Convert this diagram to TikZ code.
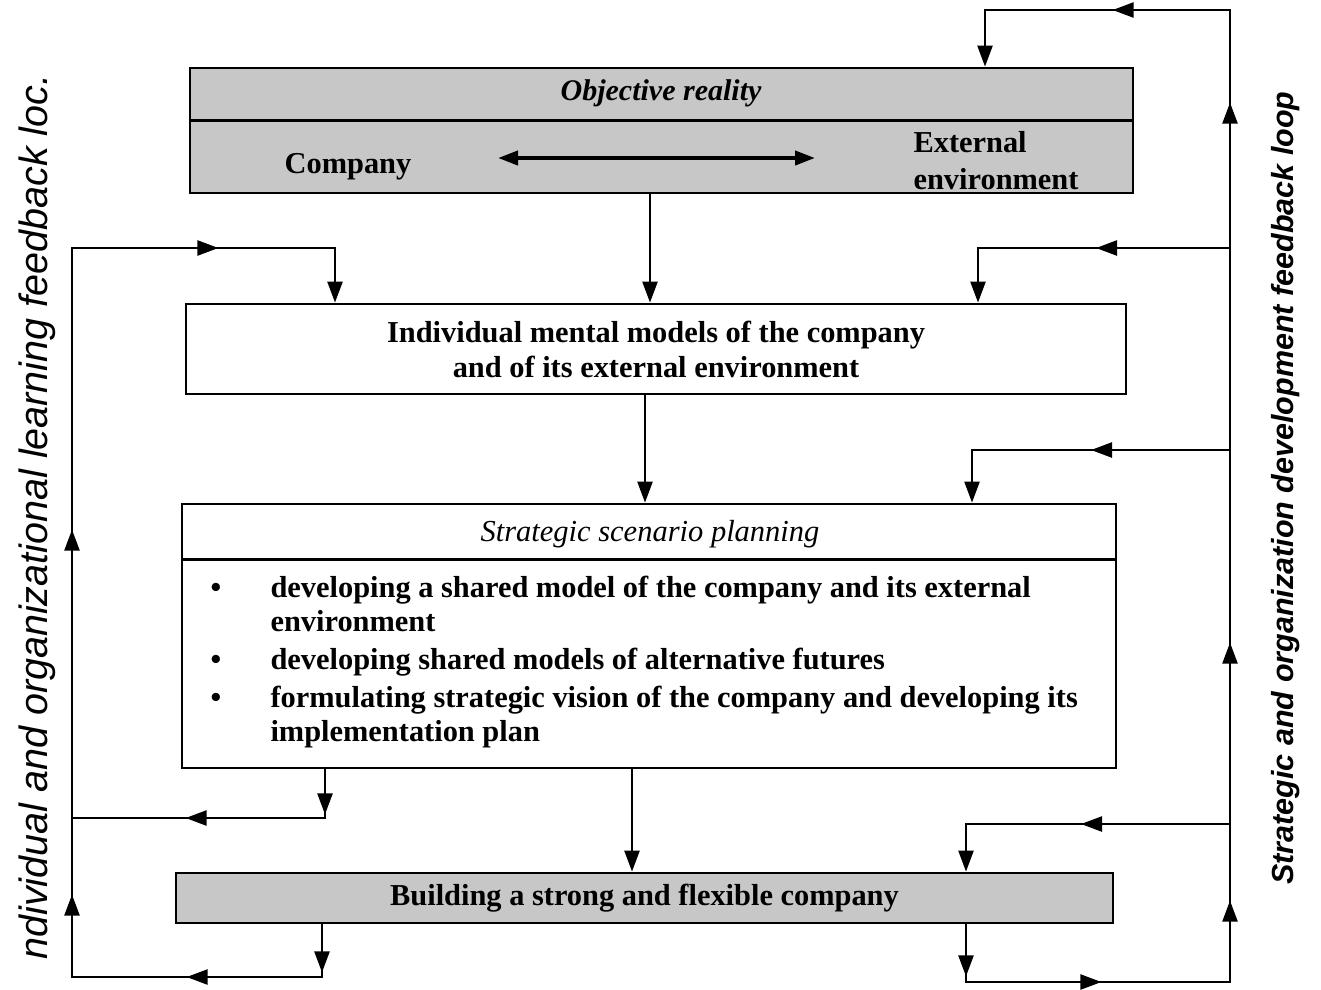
\documentclass[tikz,border=0pt]{standalone}
\usepackage{fontspec}
\setmainfont{Liberation Serif}
\newfontfamily\loopfont{Liberation Sans}
\usetikzlibrary{arrows.meta,decorations.markings}

\begin{document}
\begin{tikzpicture}[x=1pt,y=-1pt,
  conn/.style={line width=2.4pt},
  box/.style={draw,line width=2.8pt,inner sep=0pt,rectangle},
  shaded/.style={fill=black!22},
  endarr/.style={-{Triangle[length=21pt,width=15pt]}},
  arrowat/.style={postaction={decorate,decoration={markings,
      mark=at position #1 with {\arrow{Triangle[length=21pt,width=15pt]}}}}},
  bold/.style={font=\fontsize{30.4}{35}\selectfont\bfseries},
  bolditalic/.style={font=\fontsize{30}{35}\selectfont\bfseries\itshape},
  italic/.style={font=\fontsize{30.5}{35}\selectfont\itshape},
]
\useasboundingbox (0,0) rectangle (1321,989);

% boxes
\node[box,shaded,minimum width=943pt,minimum height=125pt] (real) at (661.5,130.5) {};
\node[box,bold,align=center,minimum width=940pt,minimum height=90pt] (indiv) at (656,349)
  {Individual mental models of the company\\and of its external environment};
\node[box,minimum width=934pt,minimum height=264pt] (ssp) at (649,636) {};
\node[box,shaded,bold,minimum width=937pt,minimum height=50pt] (build) at (644.5,898)
  {Building a strong and flexible company};

% header separators
\draw[line width=2.8pt] ([yshift=-54pt]real.north west) -- ([yshift=-54pt]real.north east);
\draw[line width=2.4pt] ([yshift=-57pt]ssp.north west) -- ([yshift=-57pt]ssp.north east);

% objective reality
\node[bolditalic,anchor=base] (objr) at (661,100) {Objective reality};
\node[bold,anchor=base] (comp) at (348,173) {Company};
\node[bold,anchor=base west] (ext1) at (910,152) {External};
\node[bold,anchor=base west] (ext2) at (910,189) {environment};
\coordinate (dl) at (498,158);
\coordinate (dr) at (815,158);
\draw[line width=4pt,{Triangle[length=20pt,width=14pt]}-{Triangle[length=20pt,width=14pt]}] (dl) -- (dr);

% scenario planning contents
\node[italic,anchor=base] (ssph) at (650,541) {Strategic scenario planning};
\node[bold,anchor=base] (b1) at (216,597) {•};
\node[bold,anchor=base] (b2) at (216,669) {•};
\node[bold,anchor=base] (b3) at (216,707) {•};
\node[bold,anchor=base west] (i1a) at (267,597) {developing a shared model of the company and its external};
\node[bold,anchor=base west] (i1b) at (267,631) {environment};
\node[bold,anchor=base west] (i2) at (267,669) {developing shared models of alternative futures};
\node[bold,anchor=base west] (i3a) at (267,707) {formulating strategic vision of the company and developing its};
\node[bold,anchor=base west] (i3b) at (267,741) {implementation plan};

% loop labels
\node[rotate=90,font=\loopfont\fontsize{39.5}{42}\selectfont\itshape] (ltxt) at (37,517)
  {ndividual and organizational learning feedback loc.};
\node[rotate=90,font=\loopfont\fontsize{30.5}{33}\selectfont\bfseries\itshape] (rtxt) at (1286,488)
  {Strategic and organization development feedback loop};

% main flow
\draw[conn,endarr] ([xshift=-11.5pt]real.south) -- ([xshift=-11.5pt]real.south |- indiv.north);
\draw[conn,endarr] ([xshift=-11pt]indiv.south) -- ([xshift=-11pt]indiv.south |- ssp.north);
\draw[conn,endarr] ([xshift=-17pt]ssp.south) -- ([xshift=-17pt]ssp.south |- build.north);

% learning loop (left)
\coordinate (LB) at (72,977);
\coordinate (LT) at (72,248);
\coordinate (LM) at (72,818);
\draw[conn,endarr,arrowat=48pt,arrowat=188pt,arrowat=385pt,arrowat=750pt,arrowat=1178pt]
  ([xshift=-322.5pt]build.south) |- (LB) -- (LT) -| ([xshift=-321pt]indiv.north);
\draw[conn,arrowat=45pt,arrowat=188pt] ([xshift=-324pt]ssp.south) |- (LM);

% development loop (right)
\coordinate (RB) at (1230,982);
\coordinate (RT) at (1230,10);
\coordinate (R1) at (1230,248);
\coordinate (R2) at (1230,450);
\coordinate (R3) at (1230,824);
\draw[conn,endarr,arrowat=52pt,arrowat=193pt,arrowat=403pt,arrowat=661pt,arrowat=1201pt,arrowat=1411pt]
  ([xshift=321.5pt]build.south) |- (RB) -- (RT) -| ([xshift=323.5pt]real.north);
\draw[conn,endarr,arrowat=134pt] (R1) -| ([xshift=322pt]indiv.north);
\draw[conn,endarr,arrowat=139pt] (R2) -| ([xshift=323pt]ssp.north);
\draw[conn,endarr,arrowat=149pt] (R3) -| ([xshift=321.5pt]build.north);
\end{tikzpicture}
\end{document}
